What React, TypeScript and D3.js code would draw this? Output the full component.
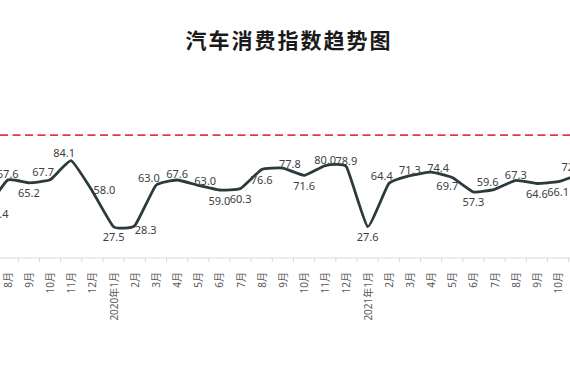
import * as d3 from 'd3';

// 2019年7月 .. 2021年11月 (the source image is cropped at both ends)
const categories = [
  '7月', '8月', '9月', '10月', '11月', '12月',
  '2020年1月', '2月', '3月', '4月', '5月', '6月', '7月', '8月', '9月', '10月', '11月', '12月',
  '2021年1月', '2月', '3月', '4月', '5月', '6月', '7月', '8月', '9月', '10月', '11月',
];

const values = [
  42.4, 67.6, 65.2, 67.7, 84.1, 58.0,
  27.5, 28.3, 63.0, 67.6, 63.0, 59.0, 60.3, 76.6, 77.8, 71.6, 80.0, 78.9,
  27.6, 64.4, 71.3, 74.4, 69.7, 57.3, 59.6, 67.3, 64.6, 66.1, 72.5,
];

// where each value label sits around its point
const labelPlacement = [
  'br', 't', 'b', 'tl', 'tl', 'r',
  'b', 'br', 'tl', 't', 'tr', 'b', 'b', 'b', 'tr', 'b', 't', 't',
  'b', 'tl', 't', 'tr', 'bl', 'b', 'tl', 't', 'b', 'b', 'tl',
];

const referenceValue = 106;
const title = '汽车消费指数趋势图';

const width = 570;
const height = 380;
const axisY = 258.8;

const placementOffset: Record<string, [number, number]> = {
  t: [0, -6],
  b: [0, 10],
  tl: [-7, -8],
  tr: [7, -5],
  bl: [-5, 8],
  br: [11, 4],
  r: [12, -2],
};

const font = '"Noto Sans", "Noto Sans CJK SC", sans-serif';

const App = () => {
  const step = 21.17;
  const x = d3
    .scaleBand<number>()
    .domain(d3.range(categories.length))
    .range([-13.47 - step / 2, -13.47 - step / 2 + step * categories.length])
    .padding(0);
  const y = d3.scaleLinear().domain([0, 120]).range([axisY, axisY - 120 * 1.166]);

  const cx = (i: number) => (x(i) ?? 0) + x.bandwidth() / 2;

  const line = d3
    .line<number>()
    .x((_, i) => cx(i))
    .y((v) => y(v))
    .curve(d3.curveCardinal.tension(0.6));

  const boundaries = d3.range(categories.length + 1).map((i) => (x(0) ?? 0) + i * x.step());

  return (
    <svg
      width={width}
      height={height}
      style={{ position: 'absolute', left: 0, top: 0, background: '#fff', overflow: 'hidden' }}
    >
      <text
        x={289}
        y={39}
        textAnchor="middle"
        dominantBaseline="central"
        fontFamily={'"Noto Sans CJK SC", sans-serif'}
        fontWeight={700}
        fontSize={21}
        letterSpacing={2}
        fill="#1a1a1a"
      >
        {title}
      </text>

      <line
        x1={0}
        x2={width}
        y1={y(referenceValue)}
        y2={y(referenceValue)}
        stroke="#dd3b4b"
        strokeWidth={1.8}
        strokeDasharray="8 4.5"
      />

      <line x1={0} x2={width} y1={axisY - 0.8} y2={axisY - 0.8} stroke="#d9d9d9" strokeWidth={1} />
      {boundaries.map((bx, i) => (
        <line key={`tick-${i}`} x1={bx} x2={bx} y1={axisY - 0.8} y2={axisY + 3.5} stroke="#d9d9d9" strokeWidth={1} />
      ))}
      {categories.map((label, i) => (
        <text
          key={`cat-${i}`}
          transform={`translate(${cx(i)}, 272) rotate(-90)`}
          textAnchor="end"
          dominantBaseline="central"
          fontFamily={font}
          fontSize={10}
          fill="#595959"
        >
          {label}
        </text>
      ))}

      <path
        d={line(values) ?? ''}
        fill="none"
        stroke="#2b3a3a"
        strokeWidth={2.8}
        strokeLinejoin="round"
        strokeLinecap="round"
      />

      {values.map((v, i) => {
        const [dx, dy] = placementOffset[labelPlacement[i]];
        return (
          <text
            key={`val-${i}`}
            x={cx(i) + dx}
            y={y(v) + dy}
            textAnchor="middle"
            dominantBaseline="central"
            fontFamily={font}
            fontSize={11}
            fill="#404040"
          >
            {v.toFixed(1)}
          </text>
        );
      })}
    </svg>
  );
};

export default App;
